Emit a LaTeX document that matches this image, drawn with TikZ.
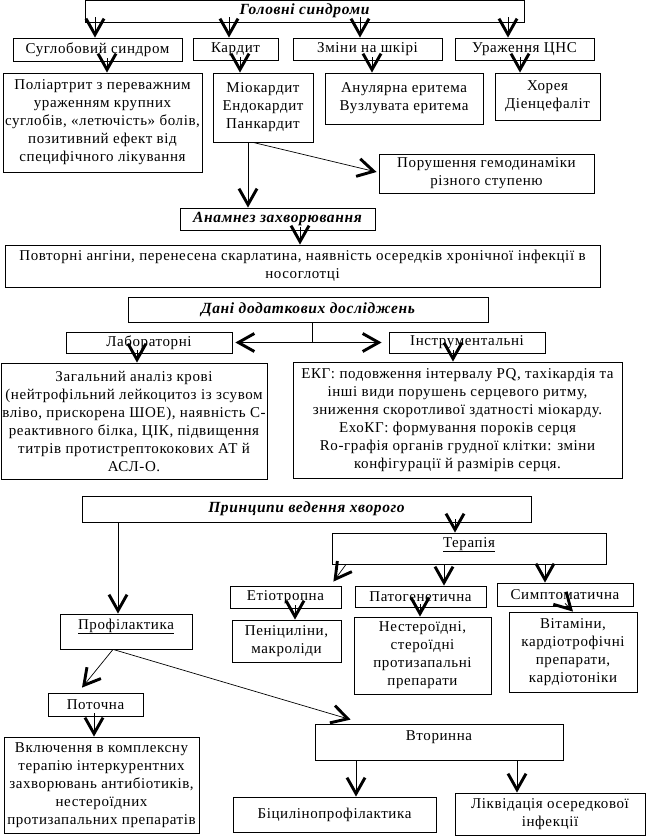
\documentclass[tikz,border=0pt]{standalone}
\usepackage{fontspec}
\setmainfont[LetterSpace=4]{Liberation Serif}
\usetikzlibrary{arrows.meta,calc}
\begin{document}
\begin{tikzpicture}[x=1pt,y=-1pt,
  every node/.style={font=\fontsize{15}{18}\selectfont},
  box/.style={draw,line width=0.8pt,inner sep=1pt,align=center},
  head/.style={box,font=\fontsize{15.5}{18}\selectfont\bfseries\itshape},
  arr/.style={line width=0.7pt,-{Straight Barb[length=16pt,width=18pt,line width=2.9pt]}},
  ln/.style={line width=0.7pt}]
\useasboundingbox (0,0) rectangle (648,837);
% top level
\node[head,minimum width=439pt,minimum height=21.5pt] (T) at (304.5,11.25) {Головні синдроми};
\node[box,minimum width=169pt,minimum height=23pt] (S1) at (97.5,49.5) {Суглобовий синдром};
\node[box,minimum width=85pt,minimum height=22pt] (S2) at (235.5,49) {Кардит};
\node[box,minimum width=149pt,minimum height=22pt] (S3) at (367.5,49) {Зміни на шкірі};
\node[box,minimum width=139pt,minimum height=22pt] (S4) at (524.5,49) {Ураження ЦНС};
\node[box,minimum width=199pt,minimum height=99pt] (D1) at (102.5,122.5) {Поліартрит з переважним\\ураженням крупних\\суглобів, «летючість» болів,\\позитивний ефект від\\специфічного лікування};
\node[box,minimum width=100pt,minimum height=69pt] (D2) at (263,107.5) {Міокардит\\Ендокардит\\Панкардит};
\node[box,minimum width=158pt,minimum height=51pt] (D3) at (404,98.5) {Анулярна еритема\\Вузлувата еритема};
\node[box,minimum width=105pt,minimum height=47pt] (D4) at (547.5,96.5) {Хорея\\Діенцефаліт};
\node[box,minimum width=215pt,minimum height=39pt] (H) at (486.5,173.5) {Порушення гемодинаміки\\різного ступеню};
% anamnesis
\node[head,minimum width=195pt,minimum height=22pt] (A) at (277.5,219) {Анамнез захворювання};
\node[box,minimum width=595pt,minimum height=42pt] (P) at (302.5,266) {Повторні ангіни, перенесена скарлатина, наявність осередків хронічної інфекції в\\носоглотці};
% additional
\node[head,minimum width=360pt,minimum height=25pt] (Dn) at (308,309.5) {Дані додаткових досліджень};
\node[box,minimum width=166pt,minimum height=21pt] (L) at (149,342.5) {Лабораторні};
\node[box,minimum width=156pt,minimum height=21pt] (I) at (467,342.5) {Інструментальні};
\node[box,minimum width=266pt,minimum height=116pt] (G) at (134,421) {Загальний аналіз крові\\(нейтрофільний лейкоцитоз із зсувом\\вліво, прискорена ШОЕ), наявність С-\\реактивного білка, ЦІК, підвищення\\титрів протистрептококових АТ й\\АСЛ-О.};
\node[box,minimum width=329pt,minimum height=116pt] (E) at (457.5,420) {ЕКГ: подовження інтервалу PQ, тахікардія та\\інші види порушень серцевого ритму,\\зниження скоротливої здатності міокарду.\\ЕхоКГ: формування пороків серця\\Ro-графія органів грудної клітки: зміни\\конфігурації й размірів серця.};
% management
\node[head,minimum width=449pt,minimum height=26pt] (Pr) at (306.5,509) {Принципи ведення хворого};
\node[box,minimum width=274pt,minimum height=31pt,text height=10pt,text depth=13pt] (Ter) at (469,548.5) {\underline{Терапія}};
\node[box,minimum width=132pt,minimum height=35pt,text height=10pt,text depth=15pt] (Prof) at (126,631.5) {\underline{Профілактика}};
\node[box,minimum width=111pt,minimum height=22pt] (Et) at (285.5,597) {Етіотропна};
\node[box,minimum width=131pt,minimum height=21pt] (Pat) at (420.5,596.5) {Патогенетична};
\node[box,minimum width=136pt,minimum height=23pt] (Sym) at (565,594.5) {Симптоматична};
\node[box,minimum width=109pt,minimum height=42pt] (Pen) at (286.5,641) {Пеніциліни,\\макроліди};
\node[box,minimum width=137pt,minimum height=77pt] (Nes) at (422.5,655.5) {Нестероїдні,\\стероїдні\\протизапальні\\препарати};
\node[box,minimum width=128pt,minimum height=80pt] (Vit) at (573,652) {Вітаміни,\\кардіотрофічні\\препарати,\\кардіотоніки};
\node[box,minimum width=95pt,minimum height=23pt] (Pot) at (95.5,704.5) {Поточна};
\node[box,minimum width=195pt,minimum height=96pt] (Vkl) at (101.5,785) {Включення в комплексну\\терапію інтеркурентних\\захворювань антибіотиків,\\нестероїдних\\протизапальних препаратів};
\node[box,minimum width=248pt,minimum height=36pt,text height=10pt,text depth=14pt] (Vtor) at (439,742) {Вторинна};
\node[box,minimum width=203pt,minimum height=35pt] (Bic) at (334.5,814.5) {Біцилінопрофілактика};
\node[box,minimum width=190pt,minimum height=42pt] (Liq) at (550,814) {Ліквідація осередкової\\інфекції};
% connector coordinates
\coordinate (k1) at ([xshift=-2.5pt]S1.north);
\coordinate (k2) at ([xshift=-6.5pt]S2.north);
\coordinate (k3) at ([xshift=-7.5pt]S3.north);
\coordinate (k4) at ([xshift=-16.5pt]S4.north);
\coordinate (m1) at ([xshift=4.5pt]D1.north);
\coordinate (m2) at ([xshift=-23pt]D2.north);
\coordinate (m3) at ([xshift=-32pt]D3.north);
\coordinate (m4) at ([xshift=-27.5pt]D4.north);
\coordinate (an) at ([xshift=-29.5pt]A.north);
\coordinate (hs) at ([xshift=-10pt]D2.south);
\coordinate (ht) at ([xshift=-2pt,yshift=1.5pt]H.west);
\coordinate (pn) at ([xshift=-2.5pt]P.north);
\coordinate (j0) at ([xshift=4pt]Dn.south);
\coordinate (j) at (j0 |- L.east);
\coordinate (gn) at ([xshift=3pt]G.north);
\coordinate (en) at ([xshift=-4.5pt]E.north);
\coordinate (tn) at ([xshift=-14pt]Ter.north);
\coordinate (fn) at ([xshift=-8pt]Prof.north);
\coordinate (es) at ([xshift=-123pt]Ter.south);
\coordinate (et) at ([xshift=-8pt,yshift=4pt]Et.north east);
\coordinate (pa) at ([xshift=23.5pt]Pat.north);
\coordinate (sy) at ([xshift=-20pt]Sym.north);
\coordinate (pe) at ([xshift=8.5pt]Pen.north);
\coordinate (ne) at ([xshift=-2.5pt]Nes.north);
\coordinate (fs) at ([xshift=-13pt]Prof.south);
\coordinate (pt) at ([xshift=-13.5pt,yshift=5pt]Pot.north);
\coordinate (vt) at ([xshift=36pt,yshift=4pt]Vtor.north west);
\coordinate (vk) at ([xshift=-7.5pt]Vkl.north);
\coordinate (bi) at ([xshift=21.5pt]Bic.north);
\coordinate (li) at ([xshift=-33pt]Liq.north);
% connectors
\draw[arr] ([yshift=5pt]T.south -| k1) -- (k1);
\draw[arr] ([yshift=5pt]T.south -| k2) -- (k2);
\draw[arr] ([yshift=5pt]T.south -| k3) -- (k3);
\draw[arr] ([yshift=5pt]T.south -| k4) -- (k4);
\draw[arr] ([yshift=3pt]S1.south -| m1) -- (m1);
\draw[arr] ([yshift=3pt]S2.south -| m2) -- (m2);
\draw[arr] ([yshift=3pt]S3.south -| m3) -- (m3);
\draw[arr] ([yshift=3pt]S4.south -| m4) -- (m4);
\draw[arr] (D2.south -| an) -- (an);
\draw[arr] (hs) -- (ht);
\draw[arr] ([yshift=3pt]A.south -| pn) -- (pn);
\draw[ln] (j0) -- (j);
\draw[arr] (j) -- ([xshift=3pt]L.east);
\draw[arr] (j) -- ([xshift=-7pt]I.west);
\draw[arr] ([yshift=3pt]L.south -| gn) -- (gn);
\draw[arr] ([yshift=3pt]I.south -| en) -- (en);
\draw[arr] ([yshift=3pt]Pr.south -| tn) -- (tn);
\draw[arr] (Pr.south -| fn) -- (fn);
\draw[arr] (es) -- (et);
\draw[arr] (Ter.south -| pa) -- (pa);
\draw[arr] (Ter.south -| sy) -- (sy);
\draw[arr] ([yshift=3pt]Et.south -| pe) -- (pe);
\draw[arr] ([yshift=3pt]Pat.south -| ne) -- (ne);
\draw[arr] ([yshift=3pt]Sym.south) -- (Vit.north);
\draw[arr] (fs) -- (pt);
\draw[arr] (fs) -- (vt);
\draw[arr] ([yshift=3pt]Pot.south -| vk) -- (vk);
\draw[arr] (Vtor.south -| bi) -- (bi);
\draw[arr] (Vtor.south -| li) -- (li);
\end{tikzpicture}
\end{document}
